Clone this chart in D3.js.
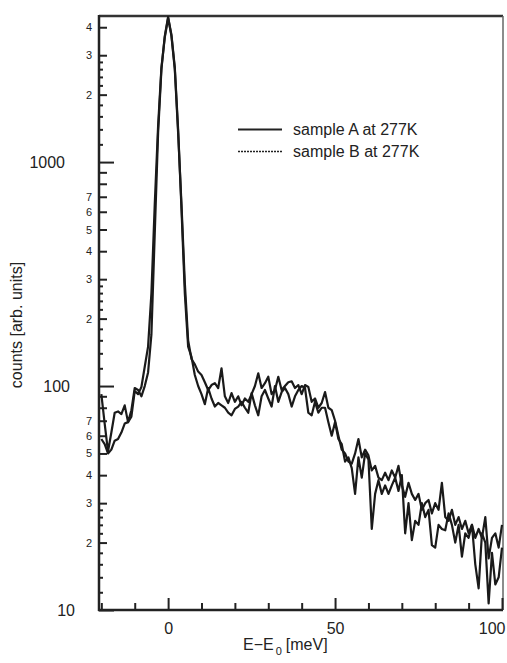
<!DOCTYPE html>
<html>
<head>
<meta charset="utf-8">
<title>counts vs E-E0</title>
<script src="https://d3js.org/d3.v7.min.js"></script>
<style>
  body { margin: 0; background: #fff; }
  svg { display: block; font-family: "Liberation Sans", Arial, sans-serif; }
</style>
</head>
<body>
<script>
// energy transfer E-E0 in meV, one point per meV
var energies = d3.range(-20, 101);

// sample A at 277K (counts)
var sampleA = [
  92, 68, 51, 62, 76, 77, 75, 82, 69, 78,
  98, 96, 90, 100, 115, 170, 480, 1350, 2600, 3650,
  4450, 3650, 2600, 1350, 650, 290, 160, 132, 125, 116,
  112, 104, 96, 101, 103, 98, 120, 90, 84, 93,
  85, 90, 82, 88, 85, 92, 100, 114, 98, 103,
  110, 92, 96, 110, 96, 100, 104, 105, 98, 101,
  92, 101, 99, 85, 88, 80, 84, 94, 80, 78,
  70, 60, 52, 50, 46, 45, 50, 58, 48, 52,
  49, 42, 44, 39, 38, 41, 38, 42, 39, 44,
  36, 32, 37, 33, 31, 33, 28, 30, 31, 27,
  30, 28, 37, 26, 25, 28, 24, 26, 23, 25,
  22, 24, 21, 23, 21, 26, 17, 21, 22, 19,
  24
];

// sample B at 277K (counts)
var sampleB = [
  58, 55, 50, 52, 57, 58, 62, 68, 69, 73,
  95, 92, 99, 122, 150, 260, 650, 1450, 2650, 3600,
  4400, 3700, 2650, 1400, 620, 260, 150, 135, 112, 100,
  92, 83, 98, 88, 81, 84, 82, 80, 76, 74,
  79, 81, 85, 80, 76, 93, 82, 74, 90, 96,
  88, 81, 100, 85, 94, 98, 92, 81, 90, 96,
  100, 98, 76, 74, 85, 76, 80, 80, 69, 60,
  69, 58, 55, 46, 48, 43, 33, 48, 39, 50,
  47, 23, 33, 38, 33, 36, 33, 36, 39, 34,
  40, 22, 30, 20.5, 25, 24, 30, 26, 28, 19.5,
  19, 24, 23, 22.7, 27, 24, 20, 24, 17.3, 22,
  21, 24, 16, 12.5, 22, 20, 10.7, 18, 13, 14,
  19
];

var seriesNames = ["sample A at 277K", "sample B at 277K"];

var yMajor = [10, 100, 1000];
var yLabeled = [20, 30, 40, 50, 60, 70, 200, 300, 400, 500, 600, 700, 2000, 3000, 4000];
var yMid = [80, 90, 800, 900];
var ySmall = [12, 14, 16, 18, 22, 24, 26, 28, 120, 140, 160, 180, 220, 240, 260, 280,
  1200, 1400, 1600, 1800, 2200, 2400, 2600, 2800];
var xMajor = [0, 50, 100];
var xMinor = [-20, -10, 10, 20, 30, 40, 60, 70, 80, 90];

var width = 507, height = 663;
var mLeft = 99, mRight = 503, mTop = 16, mBottom = 610;

var svg = d3.select("body").append("svg")
  .attr("width", width)
  .attr("height", height);

var x = d3.scaleLinear().domain([-20.7, 100.3]).range([mLeft, mRight]);
var y = d3.scaleLog().domain([10, 4490]).range([mBottom, mTop]);

// top and right frame
svg.append("line")
  .attr("x1", mLeft).attr("x2", mRight).attr("y1", mTop).attr("y2", mTop)
  .attr("stroke", "#333").attr("stroke-width", 2.5);
svg.append("line")
  .attr("x1", mRight).attr("x2", mRight).attr("y1", mTop).attr("y2", mBottom)
  .attr("stroke", "#666").attr("stroke-width", 1.5);

// y axis: three tick lengths, ticks pointing inward
function yAxis(values, size, fmt, pad) {
  var g = svg.append("g")
    .attr("transform", "translate(" + mLeft + ",0)")
    .call(d3.axisLeft(y).tickValues(values).tickSize(-size).tickSizeOuter(0)
      .tickPadding(pad).tickFormat(fmt));
  g.select(".domain").remove();
  g.selectAll(".tick line").attr("stroke", "#222").attr("stroke-width", 2);
  return g;
}
var gMaj = yAxis(yMajor, 15, d3.format("d"), 29);
gMaj.selectAll("text").attr("font-size", 16).attr("fill", "#222")
  .attr("x", function(d) { return -14 - 5 * String(d).length; });
var gLab = yAxis(yLabeled, 8, function(d) { return String(d).charAt(0); }, 7);
gLab.selectAll("text").attr("font-size", 11).attr("fill", "#222");
yAxis(yMid, 8, "", 0);
yAxis(ySmall, 4, "", 0);

svg.append("line")
  .attr("x1", mLeft).attr("x2", mLeft).attr("y1", mTop - 1).attr("y2", mBottom + 1)
  .attr("stroke", "#222").attr("stroke-width", 2.5);

// x axis
var gx = svg.append("g")
  .attr("transform", "translate(0," + mBottom + ")")
  .call(d3.axisBottom(x).tickValues(xMajor).tickSize(-12).tickSizeOuter(0).tickPadding(13));
gx.select(".domain").remove();
gx.selectAll(".tick line").attr("stroke", "#222").attr("stroke-width", 2);
gx.selectAll("text").attr("font-size", 16).attr("fill", "#222");
gx.selectAll("text").filter(function(d) { return d === 100; })
  .attr("text-anchor", "end").attr("dx", 3);
var gxm = svg.append("g")
  .attr("transform", "translate(0," + mBottom + ")")
  .call(d3.axisBottom(x).tickValues(xMinor).tickSize(-7).tickSizeOuter(0).tickFormat(""));
gxm.select(".domain").remove();
gxm.selectAll(".tick line").attr("stroke", "#222").attr("stroke-width", 2);

svg.append("line")
  .attr("x1", mLeft - 1).attr("x2", mRight).attr("y1", mBottom).attr("y2", mBottom)
  .attr("stroke", "#222").attr("stroke-width", 2.5);

// data lines
svg.append("clipPath").attr("id", "plot")
  .append("rect").attr("x", mLeft).attr("y", mTop)
  .attr("width", mRight - mLeft).attr("height", mBottom - mTop);

var line = d3.line()
  .x(function(d, i) { return x(energies[i]); })
  .y(function(d) { return y(d); });

[sampleA, sampleB].forEach(function(s) {
  svg.append("path")
    .attr("d", line(s))
    .attr("clip-path", "url(#plot)")
    .attr("fill", "none")
    .attr("stroke", "#1a1a1a")
    .attr("stroke-width", 2.2)
    .attr("stroke-linejoin", "round");
});

// legend
var legend = svg.append("g");
seriesNames.forEach(function(name, i) {
  var ly = 129.5 + i * 22;
  legend.append("line")
    .attr("x1", 238).attr("x2", 282).attr("y1", ly).attr("y2", ly)
    .attr("stroke", "#222")
    .attr("stroke-width", i === 0 ? 2.2 : 1.5)
    .attr("stroke-dasharray", i === 0 ? null : "2,1");
  legend.append("text")
    .attr("x", 293).attr("y", ly + 5.5)
    .attr("font-size", 16).attr("fill", "#222")
    .text(name);
});

// axis titles
var xt = svg.append("text")
  .attr("x", 243).attr("y", 650)
  .attr("font-size", 16).attr("fill", "#222");
xt.append("tspan").text("E\u2212E");
xt.append("tspan").attr("font-size", 11).attr("dy", 5).attr("dx", 2).text("0");
xt.append("tspan").attr("dy", -5).attr("dx", 4).text("[meV]");

svg.append("text")
  .attr("transform", "translate(22,325) rotate(-90)")
  .attr("text-anchor", "middle")
  .attr("font-size", 16).attr("fill", "#222")
  .text("counts [arb. units]");
</script>
</body>
</html>
